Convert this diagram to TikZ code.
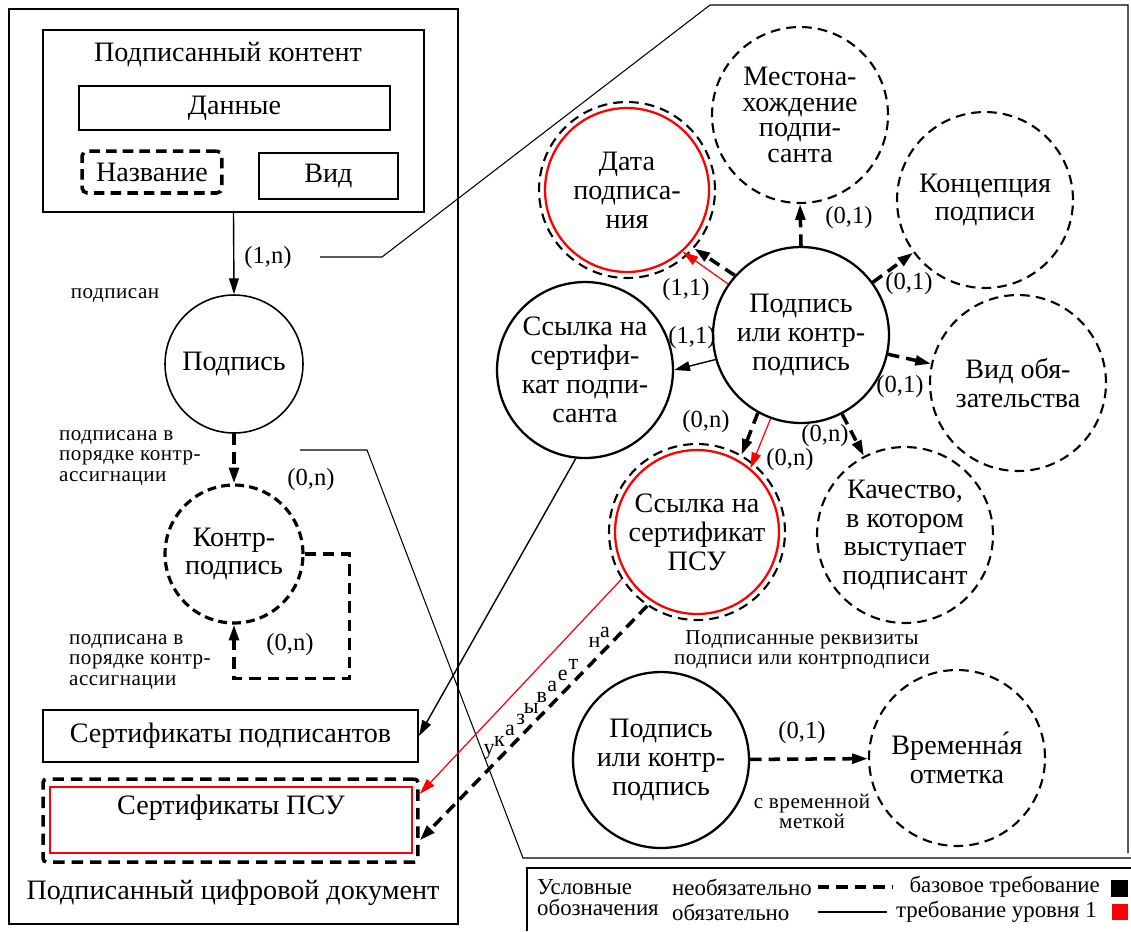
\documentclass[tikz,border=0pt]{standalone}
\usepackage{fontspec}
\setmainfont{Liberation Serif}
\newfontfamily\lblfont[LetterSpace=2.5]{Liberation Serif}
\usetikzlibrary{arrows.meta,calc}

\begin{document}
\begin{tikzpicture}[x=0.02cm,y=-0.02cm,
  >={Triangle[length=9pt,width=5.5pt]},
  every node/.style={font=\fontsize{16}{16.5}\selectfont},
  box/.style={draw,line width=1.1pt,inner sep=0pt},
  zoomline/.style={line width=0.6pt},
  ent/.style={circle,draw,line width=1.3pt,minimum size=3.52cm,inner sep=0pt,align=center},
  opt/.style={ent,dash pattern=on 5.5pt off 3.5pt,line width=1.2pt},
  lvl/.style={circle,draw=red,line width=1.3pt,minimum size=3.28cm,inner sep=0pt},
  must/.style={->,line width=0.8pt},
  maybe/.style={->,line width=2pt,dash pattern=on 6.5pt off 4pt},
  lvlone/.style={->,red,line width=0.7pt},
  card/.style={font=\fontsize{14}{14}\selectfont},
  lbl/.style={font=\lblfont\fontsize{12}{11.5}\selectfont,align=left},
  leg/.style={font=\fontsize{13}{12}\selectfont},
]
  \useasboundingbox (0,0) rectangle (1131,931);

  % document frame and zoom lines
  \draw[zoomline] (9,9) rectangle (458,924);
  \draw[zoomline] (320,257) -- (382,257) -- (710,5) -- (1128,5) -- (1128,853);
  \draw[zoomline] (300,450) -- (367,450) -- (523,858) -- (1131,858);

  % signed content
  \node[box,minimum width=7.62cm,minimum height=3.64cm] (content) at (233.5,121) {};
  \node (contentT) at (228,55) {Подписанный контент};
  \node[box,minimum width=6.22cm,minimum height=0.88cm] (dat) at (234.5,108) {Данные};
  \node[box,line width=2pt,dash pattern=on 6pt off 3.5pt,rounded corners=3pt,
        minimum width=2.8cm,minimum height=0.84cm] (title) at (152,172) {Название};
  \node[box,minimum width=2.78cm,minimum height=0.92cm] (kind) at (328.5,176) {Вид};

  % left column
  \node[circle,draw,line width=0.9pt,minimum size=2.76cm,inner sep=0pt] (sig) at (234,364) {Подпись};
  \node[circle,draw,line width=1.8pt,dash pattern=on 5pt off 3pt,minimum size=2.76cm,
        inner sep=0pt,align=center] (cs) at (234,554) {Контр-\\подпись};
  \draw[must] (content.south) -- (sig.north);
  \node[card] (c1) at (268,258) {(1,n)};
  \node[lbl] (l1) at (115,296) {подписан};
  \draw[maybe] (sig.south) -- (cs.north);
  \node[lbl,anchor=west] (l2) at (53,458) {подписана в\\порядке контр-\\ассигнации};
  \node[card] (c2) at (311,480) {(0,n)};
  \draw[maybe] (cs.east) -- ++(45,0) |- ($(cs.south)+(0,54)$) -- (cs.south);
  \node[card] (c3) at (290,645) {(0,n)};
  \node[lbl,anchor=west] (l3) at (63,662) {подписана в\\порядке контр-\\ассигнации};

  % certificates
  \node[box,minimum width=7.5cm,minimum height=1.04cm] (certs) at (230.5,736) {Сертификаты подписантов};
  \node[box,line width=2pt,dash pattern=on 6.5pt off 4pt,rounded corners=2pt,
        minimum width=7.5cm,minimum height=1.66cm] (psuBox) at (230.5,820.5) {};
  \node[draw=red,line width=0.9pt,inner sep=0pt,minimum width=7.24cm,minimum height=1.32cm] (psuRed) at (231,820) {};
  \node (psuT) at (231,808) {Сертификаты ПСУ};
  \node (doc) at (233,893) {Подписанный цифровой документ};

  % signed properties
  \node[ent] (sig2) at (801,335) {Подпись\\или контр-\\подпись};
  \node[opt,font=\fontsize{16}{14.5}\selectfont] (loc) at (800,115) {Местона-\\хождение\\подпи-\\санта};
  \node[lvl] (dataIn) at (627,190) {};
  \node[opt] (data) at (627,190) {Дата\\подписа-\\ния};
  \node[opt] (conc) at (985,200) {Концепция\\подписи};
  \node[ent] (cert) at (585,370) {Ссылка на\\сертифи-\\кат подпи-\\санта};
  \node[opt] (obl) at (1018,383) {Вид обя-\\зательства};
  \node[lvl] (psuIn) at (697,532) {};
  \node[opt] (psu) at (697,532) {Ссылка на\\сертификат\\ПСУ};
  \node[opt] (qual) at (905,535) {Качество,\\в котором\\выступает\\подписант};

  \draw[maybe] (sig2.north) -- (loc.south);
  \draw[maybe] (sig2) -- (conc);
  \draw[maybe] (sig2) -- (obl);
  \draw[maybe] (sig2) -- (qual);
  \draw[maybe] (sig2.-119) -- (psu.60);
  \draw[lvlone] (sig2.-110) -- (psuIn.50);
  \draw[maybe] (sig2.138) -- (data.-41);
  \draw[lvlone] (sig2.145) -- (dataIn.-48);
  \draw[must] (sig2.196) -- (cert.east);

  \node[card] (c4) at (849,218) {(0,1)};
  \node[card] (c5) at (909,284) {(0,1)};
  \node[card] (c6) at (900,387) {(0,1)};
  \node[card] (c7) at (825,436) {(0,n)};
  \node[card] (c8) at (706,422) {(0,n)};
  \node[card] (c9) at (790,460) {(0,n)};
  \node[card] (c10) at (686,290) {(1,1)};
  \node[card] (c11) at (692,338) {(1,1)};

  % links to the certificates
  \draw[must] (cert.-96) -- (certs.east);
  \draw[lvlone] (psu.212) -- (psuBox.8);
  \draw[maybe] (psu.236) -- (psuBox.-6);
  \coordinate (ua) at (489,752);
  \coordinate (ub) at (605,632);
  \foreach \ch [count=\i from 0] in {у,к,а,з,ы,в,а,е,т,{},н,а}
    \node[font=\fontsize{12.5}{12.5}\selectfont,inner sep=0pt] (u\i) at ($(ua)!\i/11!(ub)$) {\ch};

  % time stamp
  \node[lbl,align=center] (req) at (802,650) {Подписанные реквизиты\\подписи или контрподписи};
  \node[ent] (sig3) at (661,760) {Подпись\\или контр-\\подпись};
  \node[opt] (ts) at (957,758) {Временна\rlap{\kern-0.3em\raisebox{0.1em}{´}}я\\отметка};
  \draw[maybe] (sig3) -- (ts);
  \node[card] (c12) at (802,733) {(0,1)};
  \node[lbl,align=center] (l5) at (812,811) {с временной\\меткой};

  % legend
  \draw[zoomline] (1131,868) -- (527,868) -- (527,931);
  \node[leg,anchor=west,align=left] (legT) at (531,898) {Условные\\обозначения};
  \node[leg,anchor=west] (legO) at (666,887) {необязательно};
  \node[leg,anchor=west] (legM) at (666,912) {обязательно};
  \draw[line width=2pt,dash pattern=on 6.5pt off 4pt] (818,887) -- (893,887);
  \draw[line width=0.8pt] (818,912) -- (887,912);
  \node[leg,anchor=east] (legB) at (1106,887) {базовое требование};
  \node[fill=black,minimum size=0.34cm,inner sep=0pt] (sqB) at (1119,888) {};
  \node[leg,anchor=east] (legR) at (1103,912) {требование уровня 1};
  \node[fill=red,minimum size=0.32cm,inner sep=0pt] (sqR) at (1120,912) {};
\end{tikzpicture}
\end{document}
